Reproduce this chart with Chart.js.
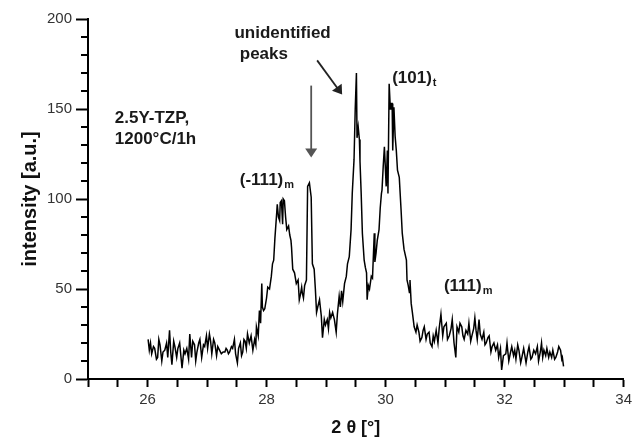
<!DOCTYPE html>
<html lang="en">
<head>
<meta charset="UTF-8">
<title>XRD 2.5Y-TZP 1200°C/1h</title>
<script src="https://cdn.jsdelivr.net/npm/chart.js@4"></script>
<style>
  html, body { margin: 0; padding: 0; background: #fff; }
  canvas { display: block; }
</style>
</head>
<body>
<canvas id="xrd" width="636" height="439"></canvas>
<script>
// 2 theta (deg) and intensity (a.u.)
const twoTheta = [
  26.01, 26.03, 26.05, 26.07, 26.10, 26.12, 26.15, 26.17, 26.19, 26.21, 26.24, 26.26, 26.29, 26.32, 26.34, 26.37, 26.39, 26.41, 26.44, 26.46,
  26.49, 26.51, 26.54, 26.56, 26.58, 26.61, 26.63, 26.66, 26.69, 26.71, 26.74, 26.76, 26.79, 26.81, 26.83, 26.86, 26.88, 26.91, 26.94, 26.96,
  26.99, 27.01, 27.04, 27.06, 27.08, 27.11, 27.13, 27.16, 27.18, 27.21, 27.24, 27.27, 27.30, 27.32, 27.34, 27.36, 27.38, 27.41, 27.43, 27.46,
  27.48, 27.51, 27.53, 27.56, 27.58, 27.60, 27.62, 27.64, 27.66, 27.68, 27.71, 27.74, 27.77, 27.80, 27.82, 27.83, 27.86, 27.88, 27.90, 27.92,
  27.93, 27.95, 27.97, 28.00, 28.02, 28.05, 28.08, 28.10, 28.12, 28.14, 28.17, 28.18, 28.20, 28.22, 28.23, 28.25, 28.27, 28.28, 28.30, 28.32,
  28.34, 28.37, 28.39, 28.41, 28.42, 28.44, 28.47, 28.50, 28.53, 28.55, 28.57, 28.59, 28.60, 28.62, 28.64, 28.67, 28.69, 28.72, 28.75, 28.77,
  28.80, 28.82, 28.84, 28.86, 28.89, 28.91, 28.92, 28.94, 28.97, 28.99, 29.02, 29.04, 29.06, 29.08, 29.11, 29.14, 29.17, 29.19, 29.22, 29.24,
  29.26, 29.28, 29.31, 29.34, 29.36, 29.39, 29.42, 29.44, 29.47, 29.49, 29.51, 29.52, 29.54, 29.56, 29.57, 29.59, 29.61, 29.64, 29.66, 29.68,
  29.69, 29.71, 29.73, 29.76, 29.78, 29.81, 29.82, 29.84, 29.86, 29.89, 29.91, 29.93, 29.94, 29.96, 29.98, 30.01, 30.03, 30.04, 30.06, 30.08,
  30.09, 30.11, 30.12, 30.14, 30.16, 30.18, 30.20, 30.23, 30.26, 30.28, 30.31, 30.35, 30.36, 30.38, 30.40, 30.41, 30.43, 30.45, 30.48, 30.51,
  30.53, 30.56, 30.58, 30.61, 30.63, 30.65, 30.68, 30.70, 30.73, 30.75, 30.78, 30.80, 30.82, 30.85, 30.88, 30.90, 30.93, 30.96, 30.98, 31.02,
  31.04, 31.07, 31.10, 31.12, 31.15, 31.18, 31.20, 31.23, 31.25, 31.28, 31.30, 31.32, 31.35, 31.38, 31.40, 31.43, 31.45, 31.48, 31.50, 31.52,
  31.54, 31.57, 31.59, 31.62, 31.65, 31.67, 31.69, 31.72, 31.74, 31.77, 31.79, 31.82, 31.85, 31.88, 31.90, 31.93, 31.95, 31.98, 32.02, 32.04,
  32.07, 32.10, 32.12, 32.15, 32.17, 32.19, 32.22, 32.24, 32.27, 32.29, 32.32, 32.34, 32.36, 32.39, 32.41, 32.44, 32.46, 32.49, 32.52, 32.55,
  32.57, 32.60, 32.62, 32.64, 32.66, 32.69, 32.71, 32.74, 32.76, 32.79, 32.81, 32.84, 32.86, 32.89, 32.91, 32.94, 32.96, 32.97, 32.99
];
const intensity = [
  22, 16, 20, 14, 18, 17, 11, 12, 22, 19, 10, 15, 16, 20, 12, 27, 15, 8, 21, 18,
  12, 17, 20, 13, 6, 16, 14, 17, 11, 25, 12, 21, 19, 10, 15, 20, 22, 12, 19, 18,
  24, 17, 25, 21, 14, 22, 20, 13, 18, 16, 14, 15, 15, 17, 16, 14, 15, 18, 17, 22,
  14, 9, 17, 20, 13, 15, 22, 21, 17, 25, 20, 24, 16, 22, 19, 29, 24, 38, 31, 53,
  40, 38, 39, 45, 51, 50, 57, 64, 66, 78, 92, 97, 90, 88, 98, 99, 86, 100, 99, 90,
  83, 85, 80, 77, 73, 61, 59, 53, 55, 44, 47, 51, 48, 45, 52, 55, 107, 109, 101, 64,
  61, 50, 37, 40, 44, 38, 35, 23, 33, 30, 33, 28, 37, 34, 37, 33, 26, 36, 46, 40,
  49, 43, 53, 57, 64, 68, 83, 103, 122, 150, 170, 134, 140, 133, 121, 103, 81, 66, 62, 59,
  44, 52, 50, 57, 56, 81, 65, 70, 77, 83, 95, 103, 105, 118, 129, 107, 127, 103, 164, 150,
  153, 153, 127, 151, 135, 127, 116, 112, 94, 81, 72, 66, 55, 52, 48, 55, 42, 37, 29, 26,
  30, 26, 21, 23, 27, 29, 22, 25, 26, 20, 18, 24, 21, 27, 20, 28, 36, 24, 29, 31,
  22, 24, 28, 33, 20, 12, 29, 26, 31, 29, 24, 22, 27, 25, 31, 21, 24, 28, 34, 27,
  22, 33, 25, 22, 26, 19, 20, 23, 24, 15, 18, 20, 16, 19, 12, 17, 5, 13, 14, 20,
  10, 15, 18, 13, 16, 11, 19, 16, 9, 12, 17, 13, 9, 15, 18, 11, 12, 16, 14, 18,
  10, 15, 20, 12, 16, 13, 17, 12, 15, 12, 16, 11, 12, 15, 18, 16, 11, 12, 7
];

// axis ranges and labelled ticks
const xRange = [25, 34];
const yRange = [0, 200];
const xLabelled = [26, 28, 30, 32, 34];
const yLabelled = [0, 50, 100, 150, 200];

// notes on the plot, placed in data units (sub = subscript)
const notes = [
  { text: '2.5Y-TZP,', sub: '', x: 25.45, y: 145 },
  { text: '1200°C/1h', sub: '', x: 25.45, y: 133 },
  { text: 'unidentified', sub: '', x: 27.46, y: 192 },
  { text: 'peaks', sub: '', x: 27.55, y: 180.5 },
  { text: '(-111)', sub: 'm', x: 27.55, y: 110.5 },
  { text: '(101)', sub: 't', x: 30.11, y: 167 },
  { text: '(111)', sub: 'm', x: 30.98, y: 51.7 }
];
// arrows: from (x0,y0) to (x1,y1), head at the end
const arrows = [
  { x0: 28.75, y0: 163, x1: 28.75, y1: 123, color: '#555' },
  { x0: 28.85, y0: 177, x1: 29.27, y1: 158, color: '#222' }
];

const points = twoTheta.map((t, i) => ({ x: t, y: intensity[i] }));

const FONT = '"Liberation Sans", Arial, sans-serif';

const extrasPlugin = {
  id: 'extras',
  afterDraw(chart) {
    const { ctx, chartArea, scales: { x, y } } = chart;
    ctx.save();

    // shorter minor ticks on the y axis
    ctx.strokeStyle = '#000';
    ctx.lineWidth = 2;
    y.ticks.forEach(t => {
      if (yLabelled.includes(t.value)) return;
      const py = Math.round(y.getPixelForValue(t.value));
      ctx.beginPath();
      ctx.moveTo(chartArea.left - 7, py);
      ctx.lineTo(chartArea.left, py);
      ctx.stroke();
    });

    // notes
    ctx.fillStyle = '#1a1a1a';
    ctx.textBaseline = 'middle';
    ctx.textAlign = 'left';
    notes.forEach(n => {
      const px = x.getPixelForValue(n.x);
      const py = y.getPixelForValue(n.y);
      ctx.font = 'bold 17px ' + FONT;
      ctx.fillText(n.text, px, py);
      if (n.sub) {
        const w = ctx.measureText(n.text).width;
        ctx.font = 'bold 11px ' + FONT;
        ctx.fillText(n.sub, px + w + 1, py + 5);
      }
    });

    // arrows
    arrows.forEach(a => {
      const x0 = x.getPixelForValue(a.x0), y0 = y.getPixelForValue(a.y0);
      const x1 = x.getPixelForValue(a.x1), y1 = y.getPixelForValue(a.y1);
      const ang = Math.atan2(y1 - y0, x1 - x0);
      const len = 9, half = 6;
      ctx.strokeStyle = a.color;
      ctx.fillStyle = a.color;
      ctx.lineWidth = 1.8;
      ctx.beginPath();
      ctx.moveTo(x0, y0);
      ctx.lineTo(x1 - Math.cos(ang) * len * 0.6, y1 - Math.sin(ang) * len * 0.6);
      ctx.stroke();
      ctx.beginPath();
      ctx.moveTo(x1, y1);
      ctx.lineTo(x1 - Math.cos(ang) * len - Math.sin(ang) * half, y1 - Math.sin(ang) * len + Math.cos(ang) * half);
      ctx.lineTo(x1 - Math.cos(ang) * len + Math.sin(ang) * half, y1 - Math.sin(ang) * len - Math.cos(ang) * half);
      ctx.closePath();
      ctx.fill();
    });

    ctx.restore();
  }
};

new Chart(document.getElementById('xrd'), {
  type: 'line',
  data: {
    datasets: [{
      data: points,
      borderColor: '#000',
      borderWidth: 1.5,
      pointRadius: 0,
      tension: 0,
      fill: false
    }]
  },
  options: {
    responsive: false,
    animation: false,
    devicePixelRatio: 1,
    layout: { padding: { left: 0, right: 11, top: 19, bottom: 0 } },
    plugins: { legend: { display: false }, tooltip: { enabled: false } },
    scales: {
      x: {
        type: 'linear',
        min: xRange[0],
        max: xRange[1],
        afterFit(scale) { scale.height = 60; },
        border: { display: true, color: '#000', width: 2 },
        grid: { drawOnChartArea: false, drawTicks: true, tickLength: 8, tickColor: '#000', tickWidth: 2 },
        ticks: {
          stepSize: 0.5,
          autoSkip: false,
          maxRotation: 0,
          padding: 4,
          color: '#333',
          font: { family: FONT, size: 15 },
          callback: v => xLabelled.includes(v) ? String(v) : ''
        },
        title: {
          display: true,
          text: '2 θ [°]',
          color: '#111',
          font: { family: FONT, size: 18, weight: 'bold' },
          padding: { top: 0, bottom: 0 }
        }
      },
      y: {
        min: yRange[0],
        max: yRange[1],
        afterFit(scale) { scale.width = 88; },
        border: { display: true, color: '#000', width: 2 },
        grid: {
          drawOnChartArea: false, drawTicks: true, tickLength: 12, tickWidth: 2,
          tickColor: c => yLabelled.includes(c.tick.value) ? '#000' : 'rgba(0,0,0,0)'
        },
        ticks: {
          stepSize: 10,
          autoSkip: false,
          padding: 4,
          color: '#333',
          font: { family: FONT, size: 15 },
          callback: v => yLabelled.includes(v) ? String(v) : ''
        },
        title: {
          display: true,
          text: 'intensity [a.u.]',
          color: '#111',
          font: { family: FONT, size: 20, weight: 'bold' },
          padding: { top: 18, bottom: 0 }
        }
      }
    }
  },
  plugins: [extrasPlugin]
});
</script>
</body>
</html>
